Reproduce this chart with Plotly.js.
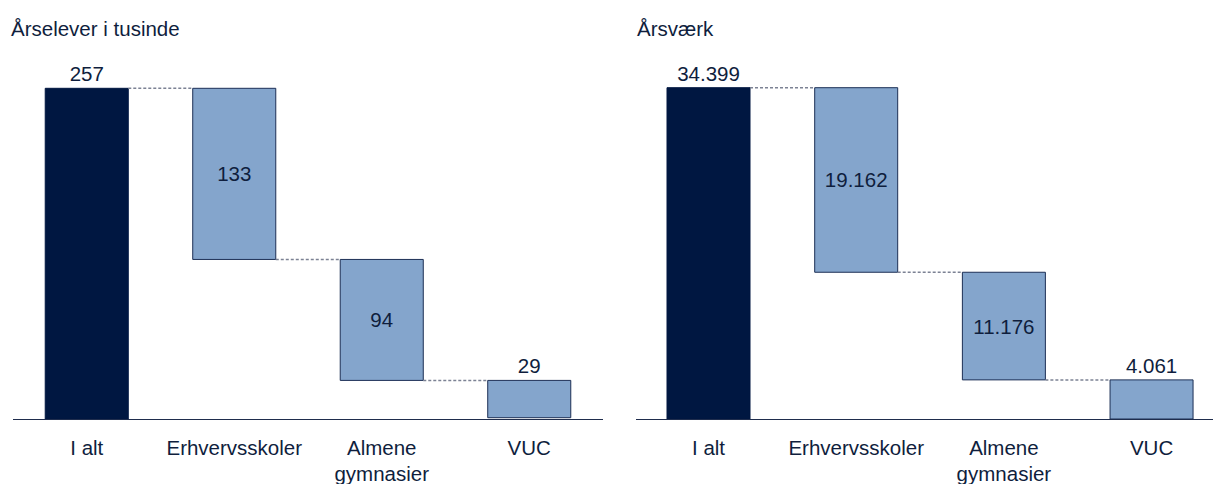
<!DOCTYPE html>
<html>
<head>
<meta charset="utf-8">
<script src="https://cdn.plot.ly/plotly-3.0.1.min.js"></script>
<style>html,body{margin:0;padding:0;background:#fff;}#chart{width:1213px;height:484px;}</style>
</head>
<body>
<div id="chart"></div>
<script>
// ---- Data ----
const categories = ["I alt", "Erhvervsskoler", "Almene<br>gymnasier", "VUC"];
const elevTotal = 257;
const elevParts = [133, 94, 29];
const elevLabels = ["257", "133", "94", "29"];
const aarsTotal = 34399;
const aarsParts = [19162, 11176, 4061];
const aarsLabels = ["34.399", "19.162", "11.176", "4.061"];
const titleLeft = "Årselever i tusinde";
const titleRight = "Årsværk";

// ---- Style ----
const DARK = "#001741";
const LIGHT = "#84a5cc";
const OUTLINE = "#1c2f55";
const TEXT = "#0f1e3d";
const FONT = "Liberation Sans, Arial, sans-serif";
const FS = 20.5;

function build(total, parts) {
  const y = [total].concat(parts);
  const base = [0];
  let run = total;
  parts.forEach(p => { run -= p; base.push(run); });
  return { y, base };
}

const xs = categories.map((_, i) => i);

function makeTrace(total, parts, labels, xa, ya, w) {
  const b = build(total, parts);
  return {
    type: "bar",
    x: xs, y: b.y, base: b.base,
    xaxis: xa, yaxis: ya,
    width: w,
    text: labels,
    textposition: xs.map((_, i) => (i === 0 || i === xs.length - 1) ? "outside" : "inside"),
    insidetextanchor: "middle",
    textfont: { family: FONT, size: FS, color: TEXT },
    insidetextfont: { family: FONT, size: FS, color: TEXT },
    outsidetextfont: { family: FONT, size: FS, color: TEXT },
    cliponaxis: false,
    constraintext: "none",
    marker: {
      color: xs.map(i => i === 0 ? DARK : LIGHT),
      line: { color: xs.map(i => i === 0 ? DARK : OUTLINE), width: 1 }
    },
    hoverinfo: "skip",
    showlegend: false
  };
}

function connectors(total, parts, xref, yref, w) {
  const b = build(total, parts);
  const shapes = [];
  for (let i = 0; i < parts.length; i++) {
    const level = b.base[i + 1] + b.y[i + 1];
    shapes.push({
      type: "line", xref: xref, yref: yref,
      x0: i + w / 2, x1: i + 1 - w / 2, y0: level, y1: level,
      line: { color: "#7c8294", width: 1.5, dash: "3px,2px" }
    });
  }
  return shapes;
}

const wL = 0.563, wR = 0.562;
const plotH = 484 - 40 - 65;

const data = [
  makeTrace(elevTotal, elevParts, elevLabels, "x", "y", wL),
  makeTrace(aarsTotal, aarsParts, aarsLabels, "x2", "y2", wR)
];

function xaxisDef(domain, anchor, range) {
  return {
    domain: domain, anchor: anchor,
    range: range,
    tickmode: "array", tickvals: xs, ticktext: categories,
    ticks: "", showgrid: false, zeroline: false,
    showline: true, linecolor: "#1f2d4d", linewidth: 1,
    ticklabelstandoff: 10,
    tickfont: { family: FONT, size: FS, color: TEXT },
    fixedrange: true
  };
}
function yaxisDef(maxV, anchor) {
  return {
    anchor: anchor, domain: [0, 1],
    range: [0, maxV],
    showgrid: false, zeroline: false, showline: false, showticklabels: false, ticks: "",
    fixedrange: true
  };
}

const domL = [13 / 1213, 603 / 1213];
const domR = [636 / 1213, 1];

const layout = {
  width: 1213, height: 484,
  margin: { l: 0, r: 0, t: 40, b: 65 },
  paper_bgcolor: "#fff", plot_bgcolor: "#fff",
  font: { family: FONT, size: FS, color: TEXT },
  xaxis: xaxisDef(domL, "y", [-0.5, 3.5]),
  yaxis: yaxisDef(elevTotal * plotH / 330.7, "x"),
  xaxis2: xaxisDef(domR, "y2", [-0.491, 3.416]),
  yaxis2: yaxisDef(aarsTotal * plotH / 331.3, "x2"),
  shapes: connectors(elevTotal, elevParts, "x", "y", wL).concat(connectors(aarsTotal, aarsParts, "x2", "y2", wR)),
  annotations: [
    { text: titleLeft, xref: "paper", yref: "paper", x: domL[0] - 0.003, y: 1 + (40 - 28) / plotH,
      xanchor: "left", yanchor: "middle", showarrow: false, font: { family: FONT, size: FS, color: TEXT } },
    { text: titleRight, xref: "paper", yref: "paper", x: domR[0] - 0.001, y: 1 + (40 - 28) / plotH,
      xanchor: "left", yanchor: "middle", showarrow: false, font: { family: FONT, size: FS, color: TEXT } }
  ],
  showlegend: false
};

Plotly.newPlot("chart", data, layout, { displayModeBar: false, staticPlot: true });
</script>
</body>
</html>
